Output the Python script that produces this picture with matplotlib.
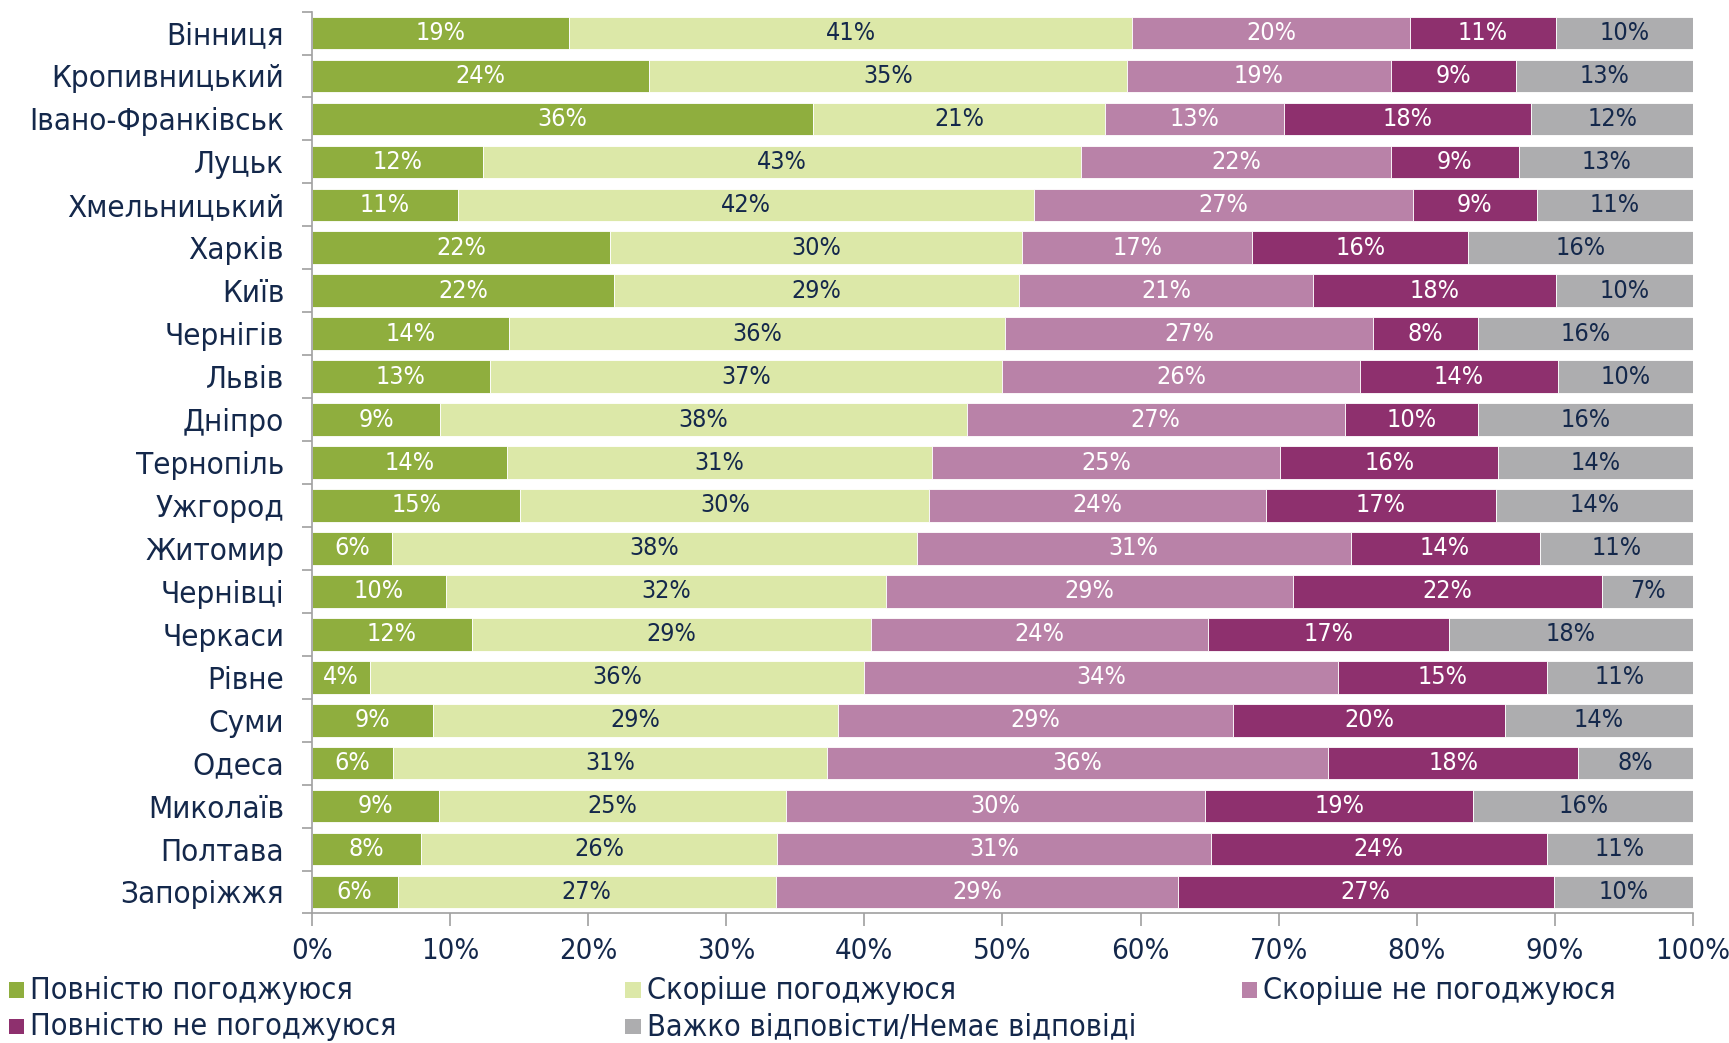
import numpy as np
import matplotlib
matplotlib.use("Agg")
import matplotlib.pyplot as plt
from matplotlib.patches import Rectangle
from matplotlib import font_manager

plt.rcParams['font.family'] = ['DejaVu Sans']
plt.rcParams['font.stretch'] = 'condensed'
have_condensed = any(f.name == 'DejaVu Sans' and f.stretch == 'condensed'
                     for f in font_manager.fontManager.ttflist)

cities = ['Вінниця', 'Кропивницький', 'Івано-Франківськ', 'Луцьк', 'Хмельницький',
          'Харків', 'Київ', 'Чернігів', 'Львів', 'Дніпро', 'Тернопіль', 'Ужгород',
          'Житомир', 'Чернівці', 'Черкаси', 'Рівне', 'Суми', 'Одеса', 'Миколаїв',
          'Полтава', 'Запоріжжя']

# shares of answers, %
fully_agree = [18.6, 24.4, 36.3, 12.4, 10.6, 21.6, 21.9, 14.3, 12.9, 9.3, 14.1,
               15.1, 5.8, 9.7, 11.6, 4.2, 8.8, 5.9, 9.2, 7.9, 6.2]
rather_agree = [40.8, 34.6, 21.1, 43.3, 41.7, 29.8, 29.3, 35.9, 37.1, 38.1, 30.8,
                29.6, 38.0, 31.9, 28.9, 35.8, 29.3, 31.4, 25.1, 25.8, 27.4]
rather_disagree = [20.1, 19.1, 13.0, 22.4, 27.4, 16.7, 21.3, 26.6, 25.9, 27.4, 25.2,
                   24.4, 31.4, 29.4, 24.4, 34.3, 28.6, 36.3, 30.4, 31.4, 29.1]
fully_disagree = [10.6, 9.1, 17.9, 9.3, 9.0, 15.6, 17.6, 7.6, 14.3, 9.6, 15.8,
                  16.6, 13.7, 22.4, 17.4, 15.1, 19.7, 18.1, 19.4, 24.3, 27.2]
no_answer = [9.9, 12.8, 11.7, 12.6, 11.3, 16.3, 9.9, 15.6, 9.8, 15.6, 14.1,
             14.3, 11.1, 6.6, 17.7, 10.6, 13.6, 8.3, 15.9, 10.6, 10.1]

series_names = ['Повністю погоджуюся', 'Скоріше погоджуюся', 'Скоріше не погоджуюся',
                'Повністю не погоджуюся', 'Важко відповісти/Немає відповіді']
series = [fully_agree, rather_agree, rather_disagree, fully_disagree, no_answer]
colors = ['#8fae3e', '#dce8a8', '#b982a8', '#8e306e', '#adadaf']
navy = '#14284b'
label_colors = ['white', navy, 'white', 'white', navy]

# narrower face allows bigger type
k = 1.0 if have_condensed else 0.86
fs_city, fs_tick, fs_bar, fs_leg = 22.5 * k, 21 * k, 18 * k, 22 * k

fig = plt.figure(figsize=(17.29, 10.43), dpi=100)
ax = fig.add_axes([0.1804, 0.1242, 0.7988, 0.8647])

y = np.arange(len(cities))
left = np.zeros(len(cities))
for vals, col, tcol in zip(series, colors, label_colors):
    vals = np.array(vals)
    ax.barh(y, vals, left=left, height=0.76, color=col, edgecolor='white', linewidth=0.6)
    for yi, l, v in zip(y, left, vals):
        ax.text(l + v / 2, yi, f'{round(v)}%', ha='center', va='center',
                color=tcol, fontsize=fs_bar)
    left += vals

ax.set_xlim(0, 100)
ax.set_ylim(len(cities) - 0.5, -0.5)
ax.set_xticks(np.arange(0, 101, 10))
ax.set_xticklabels([f'{t}%' for t in range(0, 101, 10)])
ax.set_yticks(y)
ax.set_yticklabels(cities)
ax.set_yticks(np.arange(-0.5, len(cities), 1), minor=True)
ax.tick_params(axis='y', which='major', length=0, pad=20, labelsize=fs_city, labelcolor=navy)
ax.tick_params(axis='y', which='minor', length=7, color='#a0a0a0', width=1.2)
ax.tick_params(axis='x', length=9, color='#a0a0a0', width=1.2, pad=8,
               labelsize=fs_tick, labelcolor=navy)
for s in ['top', 'right']:
    ax.spines[s].set_visible(False)
for s in ['left', 'bottom']:
    ax.spines[s].set_color('#a0a0a0')
    ax.spines[s].set_linewidth(1.2)

# legend laid out row by row, three columns
col_x = [0.0051, 0.3616, 0.7181]
row_y = [0.0507, 0.0158]
for i, (name, col) in enumerate(zip(series_names, colors)):
    cx = col_x[i % 3]
    cy = row_y[i // 3]
    fig.add_artist(Rectangle((cx, cy - 0.0074), 0.0089, 0.0148, transform=fig.transFigure,
                             facecolor=col, edgecolor='none'))
    fig.text(cx + 0.0125, cy, name, ha='left', va='center', fontsize=fs_leg, color=navy)

fig.savefig('out.png', dpi=100)
